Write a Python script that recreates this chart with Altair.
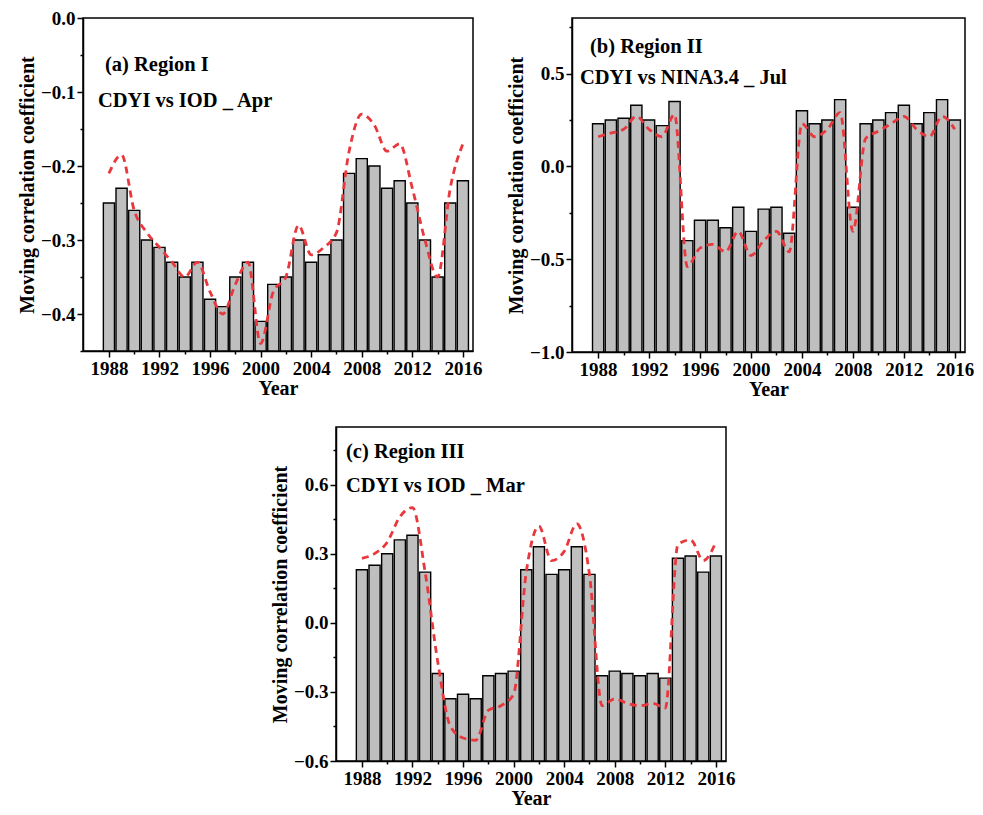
import altair as alt
import pandas as pd

years = list(range(1988, 2017))

# Panel (a) Region I: CDYI vs IOD _ Apr
a_bars = [-0.25, -0.23, -0.26, -0.30, -0.31, -0.33, -0.35, -0.33, -0.38, -0.39,
          -0.35, -0.33, -0.41, -0.36, -0.35, -0.30, -0.33, -0.32, -0.30, -0.21,
          -0.19, -0.20, -0.23, -0.22, -0.25, -0.30, -0.35, -0.25, -0.22]
a_line = [-0.21, -0.185, -0.26, -0.29, -0.31, -0.33, -0.35, -0.33, -0.37, -0.40,
          -0.36, -0.33, -0.44, -0.37, -0.35, -0.28, -0.32, -0.31, -0.29, -0.18,
          -0.13, -0.145, -0.18, -0.17, -0.23, -0.30, -0.35, -0.23, -0.17]

# Panel (b) Region II: CDYI vs NINA3.4 _ Jul
b_bars = [0.23, 0.25, 0.26, 0.33, 0.25, 0.22, 0.35, -0.40, -0.29, -0.29,
          -0.33, -0.22, -0.35, -0.23, -0.22, -0.36, 0.30, 0.23, 0.25, 0.36,
          -0.22, 0.23, 0.25, 0.29, 0.33, 0.23, 0.29, 0.36, 0.25]
b_line = [0.16, 0.18, 0.20, 0.27, 0.20, 0.16, 0.28, -0.54, -0.44, -0.42,
          -0.46, -0.35, -0.48, -0.40, -0.35, -0.46, 0.23, 0.16, 0.20, 0.29,
          -0.35, 0.15, 0.19, 0.23, 0.27, 0.20, 0.16, 0.27, 0.20]

# Panel (c) Region III: CDYI vs IOD _ Mar
c_bars = [0.23, 0.25, 0.30, 0.36, 0.38, 0.22, -0.22, -0.33, -0.31, -0.33,
          -0.23, -0.22, -0.21, 0.23, 0.33, 0.21, 0.23, 0.33, 0.21, -0.23,
          -0.21, -0.22, -0.23, -0.22, -0.24, 0.28, 0.29, 0.22, 0.29]
c_line = [0.28, 0.30, 0.35, 0.46, 0.50, 0.22, -0.17, -0.45, -0.50, -0.51,
          -0.38, -0.36, -0.31, 0.22, 0.42, 0.27, 0.31, 0.43, 0.21, -0.36,
          -0.33, -0.35, -0.36, -0.35, -0.37, 0.34, 0.36, 0.27, 0.35]

major_years = [1988, 1992, 1996, 2000, 2004, 2008, 2012, 2016]
minor_years = [1990, 1994, 1998, 2002, 2006, 2010, 2014]

FONT = "Liberation Serif"
BAR_FILL = "#bfbfbf"
LINE_RED = "#e8383d"


def panel(bars, line, ymin, ymax, ymajor, yminor, label1, label2, t1, t2,
          width, height):
    df = pd.DataFrame({"year": years, "value": bars, "smooth": line})
    base = alt.Chart(df).transform_calculate(
        x0="datum.year - 0.44", x1="datum.year + 0.44"
    )
    xscale = alt.Scale(domain=[1985.95, 2016.8], nice=False, zero=False)
    yscale = alt.Scale(domain=[ymin, ymax], nice=False, zero=False)

    bar = base.mark_bar(fill=BAR_FILL, stroke="black", strokeWidth=1.4).encode(
        x=alt.X("x0:Q", scale=xscale,
                axis=alt.Axis(values=major_years, format="d", title="Year",
                              tickSize=6, labelPadding=2, grid=False,
                              titlePadding=0)),
        x2="x1:Q",
        y=alt.Y("value:Q", scale=yscale,
                axis=alt.Axis(values=ymajor, format=".1f",
                              title="Moving correlation coefficient",
                              tickSize=6, labelPadding=2, grid=False,
                              titlePadding=3)),
        y2=alt.datum(ymin),
    )
    ln = base.mark_line(color=LINE_RED, strokeDash=[7, 5], strokeWidth=2.8,
                        interpolate="monotone").encode(
        x=alt.X("year:Q", scale=xscale,
                axis=alt.Axis(values=minor_years, labels=False, title=None,
                              tickSize=3, grid=False, domain=False, orient="bottom")),
        y=alt.Y("smooth:Q", scale=yscale,
                axis=alt.Axis(values=yminor, labels=False, title=None,
                              tickSize=3, grid=False, domain=False, orient="left")),
    )
    txt1 = alt.Chart(pd.DataFrame({"t": [label1]})).mark_text(
        align="left", baseline="middle", font=FONT, fontSize=20.5, fontWeight="bold",
        color="black").encode(text="t:N", x=alt.value(t1[0]), y=alt.value(t1[1]))
    txt2 = alt.Chart(pd.DataFrame({"t": [label2]})).mark_text(
        align="left", baseline="middle", font=FONT, fontSize=20.5, fontWeight="bold",
        color="black").encode(text="t:N", x=alt.value(t2[0]), y=alt.value(t2[1]))
    return alt.layer(bar, ln, txt1, txt2).resolve_axis(
        x="independent", y="independent"
    ).properties(width=width, height=height)


pa = panel(a_bars, a_line, -0.45, 0.0,
           [0.0, -0.1, -0.2, -0.3, -0.4], [-0.05, -0.15, -0.25, -0.35, -0.45],
           "(a) Region I", "CDYI vs IOD _ Apr", (22, 47), (15, 83), 390, 333)
pb = panel(b_bars, b_line, -1.0, 0.8,
           [0.5, 0.0, -0.5, -1.0], [0.75, 0.25, -0.25, -0.75],
           "(b) Region II", "CDYI vs NINA3.4 _ Jul", (18, 29), (8, 60), 393, 334)
pc = panel(c_bars, c_line, -0.6, 0.85,
           [0.6, 0.3, 0.0, -0.3, -0.6], [0.75, 0.45, 0.15, -0.15, -0.45],
           "(c) Region III", "CDYI vs IOD _ Mar", (10, 25), (10, 59), 390, 334)

# empty spacer that positions panel (c) horizontally under the top row
spacer = alt.Chart(pd.DataFrame({"t": [""]})).mark_text().encode(
    text="t:N"
).properties(width=186, height=10,
             view=alt.ViewBackground(stroke="transparent", strokeWidth=0))

top = alt.hconcat(pa, pb, spacing=22)
bottom = alt.hconcat(spacer, pc, spacing=0)
chart = alt.vconcat(top, bottom, spacing=26).configure_view(
    stroke="black", strokeWidth=1.5
).configure_axis(
    labelFont=FONT, titleFont=FONT, labelFontSize=19, titleFontSize=20,
    labelFontWeight="bold", titleFontWeight="bold", labelColor="black",
    titleColor="black", domainColor="black", tickColor="black",
    domainWidth=1.5, tickWidth=1.5
).properties(
    padding={"left": 16, "top": 8, "right": 5, "bottom": 0},
    background="white"
)

chart.save("out.html", embed_options={"renderer": "svg", "actions": False})
